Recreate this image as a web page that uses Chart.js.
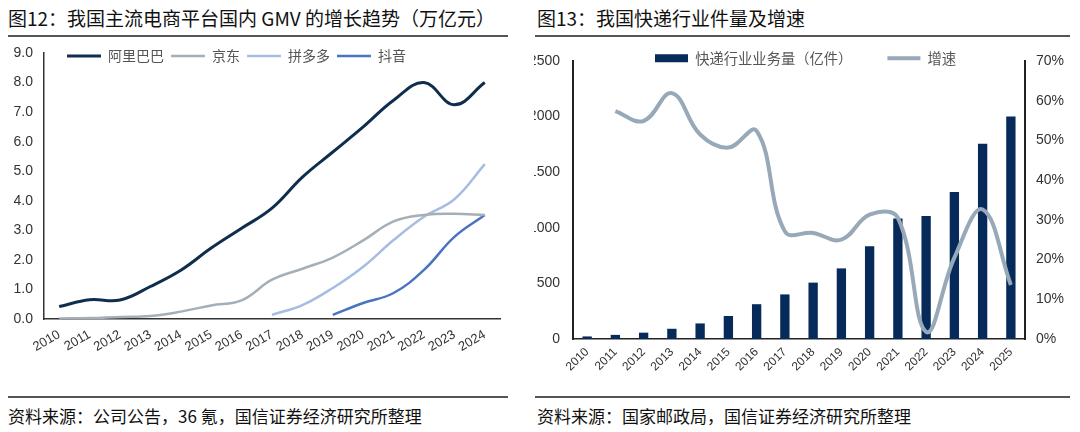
<!DOCTYPE html>
<html>
<head>
<meta charset="utf-8">
<script src="https://cdn.jsdelivr.net/npm/chart.js@4"></script>
<style>
  html, body { margin: 0; padding: 0; background: #fff; }
  body { width: 1080px; height: 432px; position: relative; overflow: hidden;
         font-family: "Noto Sans CJK SC", "Noto Sans", sans-serif; color: #111; }
  .title { position: absolute; top: 5px; font-size: 19px; line-height: 26px; white-space: nowrap; }
  .source { position: absolute; top: 404px; font-size: 17px; line-height: 24px; white-space: nowrap; }
  .rule { position: absolute; height: 1.5px; background: #555; }
  .box { position: absolute; }
</style>
</head>
<body>
<div class="title" style="left:8px">图12：我国主流电商平台国内 GMV 的增长趋势（万亿元）</div>
<div class="title" style="left:537px">图13：我国快递行业件量及增速</div>
<div class="rule" style="left:8px; top:35px; width:500px"></div>
<div class="rule" style="left:535px; top:35px; width:535px"></div>

<div class="box" style="left:0; top:40px; width:510px; height:335px">
  <canvas id="gmvChart" width="510" height="335"></canvas>
</div>
<div class="box" style="left:534px; top:40px; width:546px; height:345px; overflow:hidden">
  <div class="box" style="left:-34px; top:0; width:580px; height:345px">
    <canvas id="expressChart" width="580" height="345"></canvas>
  </div>
</div>

<div class="rule" style="left:8px; top:396px; width:500px"></div>
<div class="rule" style="left:535px; top:396px; width:535px"></div>
<div class="source" style="left:8px">资料来源：公司公告，36 氪，国信证券经济研究所整理</div>
<div class="source" style="left:537px">资料来源：国家邮政局，国信证券经济研究所整理</div>

<script>
// Chart 1: GMV (trillion yuan)
const gmvYears = ['2010', '2011', '2012', '2013', '2014', '2015', '2016', '2017',
                  '2018', '2019', '2020', '2021', '2022', '2023', '2024'];
const alibaba = [0.42, 0.65, 0.64, 1.1, 1.65, 2.4, 3.07, 3.75, 4.8, 5.65, 6.5, 7.4, 8.0, 7.25, 8.0];
const jd = [0.02, 0.03, 0.07, 0.1, 0.25, 0.46, 0.63, 1.33, 1.7, 2.08, 2.66, 3.3, 3.52, 3.56, 3.52];
const pdd = [null, null, null, null, null, null, null, 0.14, 0.47, 1.05, 1.77, 2.67, 3.46, 4.05, 5.24];
const douyin = [null, null, null, null, null, null, null, null, null, 0.14, 0.54, 0.88, 1.66, 2.78, 3.52];
const gmvTicks = [0, 1, 2, 3, 4, 5, 6, 7, 8, 9];

// Chart 2: express parcels (100m pieces) and growth (%)
const expressYears = ['2010', '2011', '2012', '2013', '2014', '2015', '2016', '2017',
                      '2018', '2019', '2020', '2021', '2022', '2023', '2024', '2025'];
const parcels = [23, 37, 57, 92, 140, 207, 313, 401, 507, 635, 834, 1083, 1106, 1321, 1755, 2000];
const growth = [null, 57.4, 54.9, 61.9, 51.5, 48.2, 52.4, 27.1, 26.7, 25.0, 31.3, 30.5, 1.8, 20.5, 32.6, 13.6];

const TICK_FONT = '"Liberation Sans", Arial, sans-serif';
const CJK_FONT = '"Noto Sans CJK SC", sans-serif';

// legend drawn inside the plot at a fixed spot, without taking layout space
const legendAt = {
    id: 'legendAt',
    afterInit(chart) {
        const lg = chart.legend;
        const fit = lg.fit;
        lg.fit = function () {
            fit.call(this);
            this._realH = this.height;
            this.height = 0;
        };
    },
    afterLayout(chart, args, opts) {
        const lg = chart.legend;
        const pad = lg.options.labels.padding;
        lg.left = opts.x - pad;
        lg.top = opts.y - pad;
        lg.right = lg.left + lg.width;
        lg.height = lg._realH || 30;
        lg.bottom = lg.top + lg.height;
    }
};

function lineSet(label, data, color, width) {
    return {
        label, data,
        borderColor: color, backgroundColor: color,
        borderWidth: width, pointRadius: 0, pointStyle: 'line',
        tension: 0.4, fill: false
    };
}

new Chart(document.getElementById('gmvChart'), {
    type: 'line',
    data: {
        labels: gmvYears,
        datasets: [
            lineSet('阿里巴巴', alibaba, '#0f2e4e', 3),
            lineSet('京东', jd, '#a5afb8', 2.5),
            lineSet('拼多多', pdd, '#a6bde2', 2.5),
            lineSet('抖音', douyin, '#4a74c2', 2.5)
        ]
    },
    options: {
        responsive: false,
        animation: false,
        layout: { padding: { top: 13, right: 10, left: 0, bottom: 0 } },
        plugins: {
            tooltip: { enabled: false },
            legend: {
                position: 'top',
                align: 'start',
                labels: {
                    usePointStyle: true,
                    pointStyleWidth: 34,
                    padding: 7,
                    color: '#555',
                    font: { family: CJK_FONT, size: 14 }
                }
            },
            legendAt: { x: 67, y: 9 }
        },
        scales: {
            x: {
                offset: true,
                grid: { display: false, drawTicks: false },
                border: { display: true, color: '#333', width: 1.5 },
                ticks: { autoSkip: false, minRotation: 30, maxRotation: 30, padding: 8, color: '#333',
                         font: { family: TICK_FONT, size: 13 } },
                afterFit(s) { s.height = 56; }
            },
            y: {
                min: 0, max: 9,
                grid: { display: false, drawTicks: false },
                border: { display: true, color: '#333', width: 1.5 },
                afterBuildTicks(s) { s.ticks = gmvTicks.map(v => ({ value: v })); },
                ticks: { padding: 11, color: '#333', font: { family: TICK_FONT, size: 14 },
                         callback: v => v.toFixed(1) },
                afterFit(s) { s.width = 44; s.paddingTop = 0; }
            }
        }
    },
    plugins: [legendAt]
});

new Chart(document.getElementById('expressChart'), {
    type: 'bar',
    data: {
        labels: expressYears,
        datasets: [
            {
                label: '快递行业业务量（亿件）',
                data: parcels,
                backgroundColor: '#062a5a',
                borderWidth: 0,
                barPercentage: 0.33,
                categoryPercentage: 1,
                pointStyle: 'rect',
                yAxisID: 'y',
                order: 2
            },
            {
                type: 'line',
                label: '增速',
                data: growth,
                borderColor: '#97a9b8',
                backgroundColor: '#97a9b8',
                borderWidth: 4,
                pointRadius: 0,
                pointStyle: 'line',
                tension: 0.4,
                yAxisID: 'y1',
                order: 1
            }
        ]
    },
    options: {
        responsive: false,
        animation: false,
        layout: { padding: { top: 21, right: 0, left: 0, bottom: 0 } },
        plugins: {
            tooltip: { enabled: false },
            legend: {
                position: 'top',
                align: 'start',
                labels: {
                    usePointStyle: true,
                    pointStyleWidth: 33,
                    boxHeight: 8,
                    padding: 35,
                    color: '#555',
                    font: { family: CJK_FONT, size: 14.3 },
                    sort: (a, b) => a.datasetIndex - b.datasetIndex
                }
            },
            legendAt: { x: 155, y: 11 }
        },
        scales: {
            x: {
                grid: { display: false, drawTicks: false },
                border: { display: true, color: '#222', width: 1.5 },
                ticks: { autoSkip: false, minRotation: 45, maxRotation: 45, padding: 6, color: '#333',
                         font: { family: TICK_FONT, size: 12 } },
                afterFit(s) { s.height = 46; }
            },
            y: {
                position: 'left',
                min: 0, max: 2500,
                grid: { display: false, drawTicks: false },
                border: { display: true, color: '#222', width: 2 },
                ticks: { stepSize: 500, padding: 13, color: '#333',
                         font: { family: TICK_FONT, size: 14 },
                         callback: v => String(v) },
                afterFit(s) { s.width = 73; s.paddingTop = 0; }
            },
            y1: {
                position: 'right',
                min: 0, max: 70,
                grid: { display: false, drawTicks: false },
                border: { display: true, color: '#222', width: 2 },
                ticks: { stepSize: 10, padding: 11, color: '#333',
                         font: { family: TICK_FONT, size: 14 },
                         callback: v => v + '%' },
                afterFit(s) { s.width = 55; s.paddingTop = 0; }
            }
        }
    },
    plugins: [legendAt]
});
</script>
</body>
</html>
